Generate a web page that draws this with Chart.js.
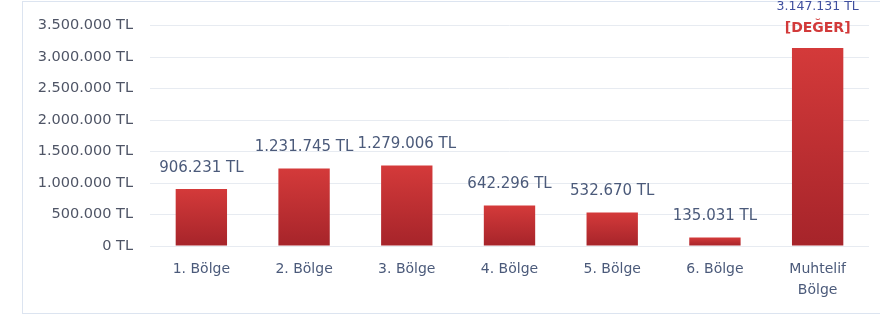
<!DOCTYPE html>
<html>
<head>
<meta charset="utf-8">
<script src="https://cdn.jsdelivr.net/npm/chart.js@4/dist/chart.umd.min.js"></script>
<style>
  html, body { margin: 0; padding: 0; background: #fff; }
  #wrap { position: relative; width: 880px; height: 316px; overflow: hidden; }
  #frame { position: absolute; left: 22px; top: 1px; width: 900px; height: 311px; border: 1px solid #dce4f0; }
  canvas { position: absolute; left: 0; top: 0; }
</style>
</head>
<body>
<div id="wrap">
  <div id="frame"></div>
  <canvas id="bolgeChart" width="880" height="316"></canvas>
</div>
<script>
// bolge dagilimi
const bolgeler = ['1. Bölge', '2. Bölge', '3. Bölge', '4. Bölge', '5. Bölge', '6. Bölge', ['Muhtelif', 'Bölge']];
const tutarlar = [906231, 1231745, 1279006, 642296, 532670, 135031, 3147131];
const yTicks = [0, 500000, 1000000, 1500000, 2000000, 2500000, 3000000, 3500000];
const ekEtiket = ['', '', '', '', '', '', '[DEĞER]'];

function formatTL(v) {
    return String(v).replace(/\B(?=(\d{3})+(?!\d))/g, '.') + ' TL';
}

function barGradient(context) {
    const chart = context.chart;
    if (!chart.chartArea || context.dataIndex === undefined) return '#c83030';
    const y = chart.scales.y;
    const top = y.getPixelForValue(tutarlar[context.dataIndex]);
    const bottom = y.getPixelForValue(0);
    const g = chart.ctx.createLinearGradient(0, top, 0, bottom);
    g.addColorStop(0, '#d43a3a');
    g.addColorStop(1, '#a6242a');
    return g;
}

const valueLabels = {
    id: 'valueLabels',
    afterDatasetsDraw(chart) {
        const ctx = chart.ctx;
        const meta = chart.getDatasetMeta(0);
        ctx.save();
        ctx.textAlign = 'center';
        ctx.textBaseline = 'middle';
        meta.data.forEach((bar, i) => {
            if (ekEtiket[i]) {
                ctx.font = 'bold 14px "DejaVu Sans"';
                ctx.fillStyle = '#d23a3a';
                ctx.fillText(ekEtiket[i], bar.x, bar.y - 20);
                ctx.font = '12.5px "DejaVu Sans"';
                ctx.fillStyle = '#3f4f9e';
                ctx.fillText(formatTL(tutarlar[i]), bar.x, bar.y - 41);
            } else {
                ctx.font = '15px "DejaVu Sans"';
                ctx.fillStyle = '#4b5a7a';
                ctx.fillText(formatTL(tutarlar[i]), bar.x, bar.y - 21);
            }
        });
        ctx.restore();
    }
};

new Chart(document.getElementById('bolgeChart'), {
    type: 'bar',
    data: {
        labels: bolgeler,
        datasets: [{
            data: tutarlar,
            backgroundColor: barGradient,
            borderWidth: 0,
            categoryPercentage: 1.0,
            barPercentage: 0.5
        }]
    },
    options: {
        responsive: false,
        animation: false,
        layout: { padding: { left: 22, right: 11, top: 21, bottom: 0 } },
        plugins: {
            legend: { display: false },
            tooltip: { enabled: false }
        },
        scales: {
            x: {
                grid: { display: false },
                border: { display: false },
                ticks: {
                    color: '#4b5a7a',
                    font: { family: 'DejaVu Sans', size: 14, lineHeight: 1.5 },
                    padding: 5,
                    maxRotation: 0,
                    autoSkip: false
                },
                afterFit(scale) { scale.height = 70; }
            },
            y: {
                min: 0,
                max: 3500000,
                afterBuildTicks(scale) { scale.ticks = yTicks.map(v => ({ value: v })); },
                grid: { color: '#e7ebf1', drawTicks: false },
                border: { display: false },
                ticks: {
                    color: '#4f5566',
                    font: { family: 'DejaVu Sans', size: 14.5 },
                    padding: 17,
                    callback: v => formatTL(v)
                },
                afterFit(scale) { scale.width = 128; }
            }
        }
    },
    plugins: [valueLabels]
});
</script>
</body>
</html>
